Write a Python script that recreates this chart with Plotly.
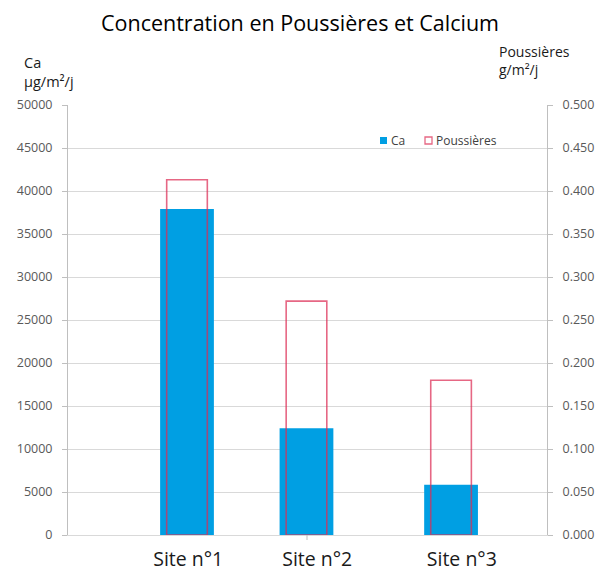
import plotly.graph_objects as go

sites = ["Site n°1", "Site n°2", "Site n°3"]
site_x = [1.0, 2.0, 3.21]          # bar centres on the numeric x axis
label_x = [1.01, 2.09, 3.30]       # category label positions
ca_values = [37900, 12400, 5850]   # µg/m²/j
poussieres_values = [0.413, 0.272, 0.180]  # g/m²/j

ca_ticks = list(range(0, 50001, 5000))
pous_ticks = [i * 0.05 for i in range(11)]

FONT = "Open Sans"
GRID = "#d9d9d9"
AXIS = "#bfbfbf"
TICKFONT = dict(family=FONT, size=12.5, color="#595959")
BLUE = "#009fe3"
RED = "rgba(220,45,85,0.72)"

# page body has an 8px margin: figure is drawn 8px in from the top-left
OFF = 8
W, H = 603 - OFF, 575 - OFF
L, T = 68 - OFF, 105 - OFF
PW, PH = 479, 430
R, B = W - L - PW, H - T - PH


def px(xp):
    return (xp - 68) / PW


def py(yp):
    return (535 - yp) / PH


fig = go.Figure()
fig.add_trace(go.Bar(
    x=site_x, y=ca_values, name="Ca",
    width=0.45, offset=-0.225,
    marker=dict(color=BLUE, line=dict(width=0)),
    yaxis="y", showlegend=False,
))
fig.add_trace(go.Bar(
    x=site_x, y=poussieres_values, name="Poussières",
    width=0.34, offset=-0.17,
    marker=dict(color="rgba(0,0,0,0)", line=dict(color=RED, width=1.6)),
    yaxis="y2", showlegend=False,
))

shapes = [
    dict(type="rect", xref="paper", yref="paper",
         x0=px(380), x1=px(387), y0=py(144), y1=py(137),
         fillcolor=BLUE, line=dict(width=0)),
    dict(type="rect", xref="paper", yref="paper",
         x0=px(425), x1=px(432), y0=py(144), y1=py(137),
         fillcolor="white", line=dict(color=RED, width=1.3)),
    # small tick on the category axis
    dict(type="line", xref="paper", yref="paper",
         x0=px(307), x1=px(307), y0=0, y1=py(540),
         line=dict(color=AXIS, width=1)),
]

annotations = [
    dict(text="Ca", x=px(389), y=py(140.5), xref="paper", yref="paper",
         showarrow=False, xanchor="left", yanchor="middle",
         font=dict(family=FONT, size=12, color="#404040")),
    dict(text="Poussières", x=px(434), y=py(140.5), xref="paper", yref="paper",
         showarrow=False, xanchor="left", yanchor="middle",
         font=dict(family=FONT, size=12, color="#404040")),
    dict(text="Ca<br>µg/m²/j", x=px(22), y=py(72), xref="paper", yref="paper",
         showarrow=False, align="left", xanchor="left", yanchor="middle",
         font=dict(family=FONT, size=14.5, color="#1a1a1a")),
    dict(text="Poussières<br>g/m²/j", x=px(497), y=py(60), xref="paper", yref="paper",
         showarrow=False, align="left", xanchor="left", yanchor="middle",
         font=dict(family=FONT, size=14, color="#1a1a1a")),
]

fig.update_layout(
    width=W, height=H,
    paper_bgcolor="white", plot_bgcolor="white",
    margin=dict(l=L, r=R, t=T, b=B, autoexpand=False),
    barmode="overlay",
    showlegend=False,
    title=dict(
        text="Concentration en Poussières et Calcium",
        x=px(300), xref="paper", xanchor="center",
        y=1 - (23 - OFF) / H, yanchor="middle",
        font=dict(family=FONT, size=21.5, color="#000000"),
    ),
    xaxis=dict(
        range=[0.004, 4.013],
        tickmode="array", tickvals=label_x, ticktext=sites,
        tickfont=dict(family=FONT, size=19.5, color="#1a1a1a"),
        ticks="", showgrid=False, zeroline=False,
        showline=True, linecolor=GRID, linewidth=1,
        ticklabelstandoff=7,
    ),
    yaxis=dict(
        range=[0, 50000], tickmode="array", tickvals=ca_ticks,
        ticktext=[str(v) for v in ca_ticks],
        tickfont=TICKFONT,
        showgrid=True, gridcolor=GRID, gridwidth=1,
        zeroline=False,
        showline=True, linecolor=AXIS, linewidth=1,
        ticks="outside", ticklen=5, tickcolor=AXIS,
        ticklabelstandoff=7,
    ),
    yaxis2=dict(
        range=[0, 0.5], tickmode="array", tickvals=pous_ticks,
        ticktext=[f"{v:.3f}" for v in pous_ticks],
        tickfont=TICKFONT,
        overlaying="y", side="right",
        showgrid=False, zeroline=False,
        showline=True, linecolor=AXIS, linewidth=1,
        ticks="outside", ticklen=5, tickcolor=AXIS,
        ticklabelstandoff=7,
    ),
    shapes=shapes,
    annotations=annotations,
)

fig.write_html("out.html")
